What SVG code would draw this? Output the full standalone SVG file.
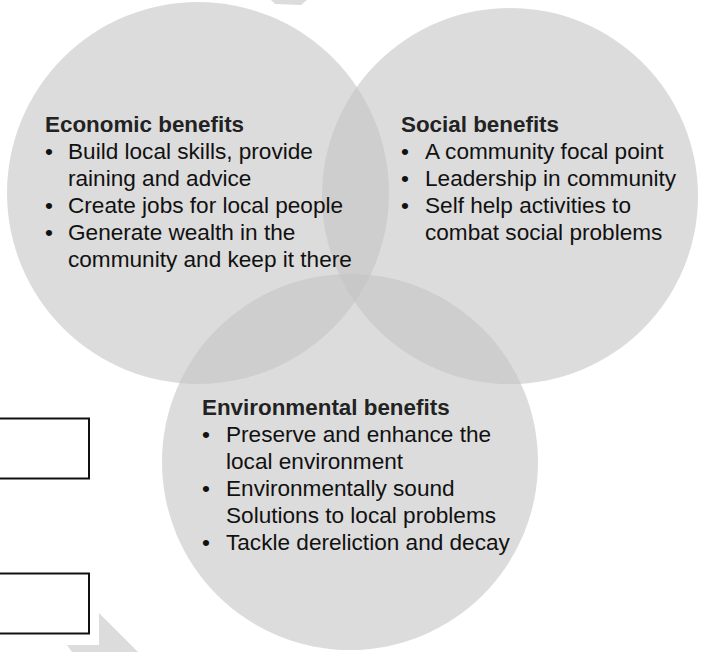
<svg xmlns="http://www.w3.org/2000/svg" width="701" height="652" viewBox="0 0 701 652">
<style>
.c{fill:#c4c4c4;fill-opacity:0.6}
.h{font-family:"Liberation Sans",Arial,sans-serif;font-size:22.4px;font-weight:bold;fill:#222}
.t{font-family:"Liberation Sans",Arial,sans-serif;font-size:22.6px;fill:#111}
.box{fill:#fff;stroke:#111;stroke-width:2}
.wm{fill:#dcdcdc}
</style>
<rect width="701" height="652" fill="#fff"/>
<polygon class="wm" points="271,0 275,4 301,5 307,0"/>
<polygon class="wm" points="99,613 138,652 72,652 67,645 99,645"/>
<g id="economic">
<circle class="c" cx="198" cy="193" r="191"/>
</g>
<g id="social">
<circle class="c" cx="510" cy="196" r="188"/>
</g>
<g id="environmental">
<circle class="c" cx="350" cy="462" r="188"/>
</g>
<g id="economic-text">
<text class="h" x="45" y="132">Economic benefits</text>
<text class="t" y="159"><tspan x="45">•</tspan><tspan x="68">Build local skills, provide</tspan></text>
<text class="t" x="68" y="186">raining and advice</text>
<text class="t" y="213"><tspan x="45">•</tspan><tspan x="68">Create jobs for local people</tspan></text>
<text class="t" y="240"><tspan x="45">•</tspan><tspan x="68">Generate wealth in the</tspan></text>
<text class="t" x="68" y="267">community and keep it there</text>
</g>
<g id="social-text">
<text class="h" x="401" y="132">Social benefits</text>
<text class="t" y="159"><tspan x="401">•</tspan><tspan x="425">A community focal point</tspan></text>
<text class="t" y="186"><tspan x="401">•</tspan><tspan x="425">Leadership in community</tspan></text>
<text class="t" y="213"><tspan x="401">•</tspan><tspan x="425">Self help activities to</tspan></text>
<text class="t" x="425" y="240">combat social problems</text>
</g>
<g id="environmental-text">
<text class="h" x="202" y="415">Environmental benefits</text>
<text class="t" y="442"><tspan x="202">•</tspan><tspan x="226">Preserve and enhance the</tspan></text>
<text class="t" x="226" y="469">local environment</text>
<text class="t" y="496"><tspan x="202">•</tspan><tspan x="226">Environmentally sound</tspan></text>
<text class="t" x="226" y="523">Solutions to local problems</text>
<text class="t" y="550"><tspan x="202">•</tspan><tspan x="226">Tackle dereliction and decay</tspan></text>
</g>
<g id="box1">
<rect class="box" x="-5" y="418.5" width="94" height="60"/>
</g>
<g id="box2">
<rect class="box" x="-5" y="573.5" width="94" height="60"/>
</g>
<g id="connectors"/>
</svg>
